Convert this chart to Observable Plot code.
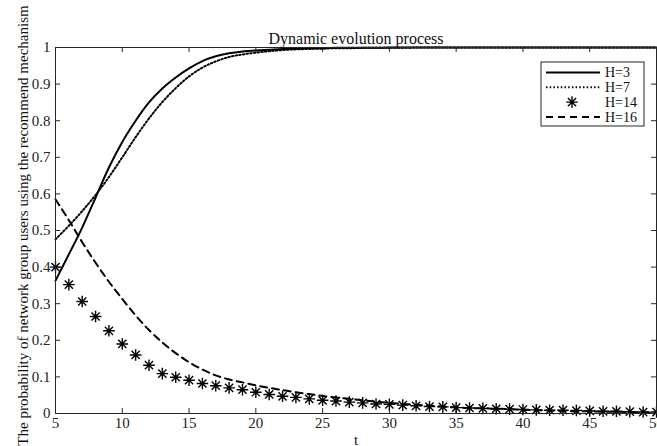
<!DOCTYPE html>
<html><head><meta charset="utf-8">
<script src="https://cdn.jsdelivr.net/npm/d3@7"></script>
<script src="https://cdn.jsdelivr.net/npm/@observablehq/plot@0.6"></script>
<style>body{margin:0;background:#fff} svg{display:block}</style>
</head><body><div id="chart"></div>
<script>
const tValues = [5,6,7,8,9,10,11,12,13,14,15,16,17,18,19,20,21,22,23,24,25,26,27,28,29,30,31,32,33,34,35,36,37,38,39,40,41,42,43,44,45,46,47,48,49,50];
const h3  = [0.363,0.435,0.508,0.59,0.672,0.742,0.8,0.85,0.888,0.918,0.943,0.963,0.976,0.984,0.989,0.992,0.994,0.996,0.997,0.998,0.998,0.999,0.999,0.999,0.999,1,1,1,1,1,1,1,1,1,1,1,1,1,1,1,1,1,1,1,1,1];
const h7  = [0.476,0.513,0.553,0.597,0.646,0.700,0.755,0.806,0.851,0.889,0.921,0.945,0.962,0.974,0.981,0.986,0.99,0.993,0.995,0.996,0.997,0.998,0.998,0.999,0.999,0.999,0.999,1,1,1,1,1,1,1,1,1,1,1,1,1,1,1,1,1,1,1];
const h14 = [0.40,0.352,0.306,0.265,0.226,0.19,0.16,0.132,0.109,0.099,0.091,0.082,0.076,0.07,0.065,0.058,0.052,0.047,0.044,0.04,0.036,0.034,0.031,0.029,0.026,0.025,0.023,0.021,0.019,0.018,0.016,0.015,0.014,0.013,0.012,0.011,0.010,0.009,0.009,0.008,0.007,0.006,0.006,0.005,0.004,0.004];
const h16 = [0.585,0.528,0.468,0.412,0.36,0.313,0.268,0.228,0.194,0.165,0.14,0.12,0.104,0.093,0.085,0.077,0.07,0.064,0.058,0.053,0.048,0.044,0.04,0.036,0.032,0.029,0.026,0.024,0.021,0.019,0.017,0.015,0.014,0.013,0.012,0.010,0.009,0.008,0.007,0.006,0.006,0.005,0.005,0.004,0.003,0.003];
const seriesNames = ["H=3","H=7","H=14","H=16"];
const xTicks = [5,10,15,20,25,30,35,40,45,50];
const yTicks = [0,0.1,0.2,0.3,0.4,0.5,0.6,0.7,0.8,0.9,1];
const yTickLabels = ["0","0.1","0.2","0.3","0.4","0.5","0.6","0.7","0.8","0.9","1"];
const titleText = "Dynamic evolution process";
const xLabel = "t";
const yLabel = "The probability of network group users using the recommend mechanism";

const rows = arr => tValues.map((t, i) => ({t, v: arr[i]}));
const FONT = "'Liberation Serif','Times New Roman',serif";
const AX = "#262626";
const DOT = "1.5,2.2", DASH = "7,5";

const starSymbol = {
  draw(ctx, size) {
    const r = Math.sqrt(size / Math.PI), d = r * Math.SQRT1_2;
    ctx.moveTo(-r, 0); ctx.lineTo(r, 0);
    ctx.moveTo(0, -r); ctx.lineTo(0, r);
    ctx.moveTo(-d, -d); ctx.lineTo(d, d);
    ctx.moveTo(-d, d); ctx.lineTo(d, -d);
  }
};

const W = 657, H = 446, mL = 55, mR = 1, mT = 47, mB = 33;
const innerW = W - mL - mR, innerH = H - mT - mB, tick = 5;

const svg = Plot.plot({
  width: W, height: H,
  marginLeft: mL, marginRight: mR, marginTop: mT, marginBottom: mB,
  style: {fontFamily: FONT, fontSize: "15px", color: "#222", background: "white", overflow: "visible"},
  x: {domain: [5, 50], label: null},
  y: {domain: [0, 1], label: null},
  marks: [
    Plot.axisX({ticks: xTicks, tickSize: 0, tickPadding: 4, fontSize: 15}),
    Plot.axisY({ticks: yTicks, tickSize: 0, tickPadding: 5, fontSize: 15, tickFormat: d => yTickLabels[yTicks.indexOf(d)]}),
    Plot.ruleX(xTicks, {x: d => d, insetTop: innerH - tick, stroke: AX}),
    Plot.ruleX(xTicks, {x: d => d, insetBottom: innerH - tick, stroke: AX}),
    Plot.ruleY(yTicks, {y: d => d, insetRight: innerW - tick, stroke: AX}),
    Plot.ruleY(yTicks, {y: d => d, insetLeft: innerW - tick, stroke: AX}),
    Plot.line(rows(h16), {x: "t", y: "v", stroke: "black", strokeWidth: 2, strokeDasharray: DASH, curve: "monotone-x"}),
    Plot.line(rows(h7), {x: "t", y: "v", stroke: "black", strokeWidth: 2, strokeDasharray: DOT, curve: "monotone-x"}),
    Plot.line(rows(h3), {x: "t", y: "v", stroke: "black", strokeWidth: 2, curve: "monotone-x"}),
    Plot.dot(rows(h14), {x: "t", y: "v", symbol: starSymbol, r: 5.8, stroke: "black", strokeWidth: 1.4, fill: "none"}),
    Plot.frame({stroke: AX, strokeWidth: 1}),
    Plot.text([titleText], {frameAnchor: "top", lineAnchor: "bottom", dy: -4, fontSize: 16, fill: "#111"}),
    Plot.text([xLabel], {frameAnchor: "bottom", lineAnchor: "bottom", dy: 31, fontSize: 15, fill: "#111"}),
    Plot.text([yLabel], {frameAnchor: "left", textAnchor: "middle", lineAnchor: "bottom", rotate: -90, dx: -28, dy: -5, fontSize: 15, fill: "#111"})
  ]
});
document.getElementById("chart").appendChild(svg);

// legend box
const styles = [
  {kind: "line", dash: null},
  {kind: "line", dash: DOT},
  {kind: "star"},
  {kind: "line", dash: DASH}
];
const lg = d3.select(svg).append("g").attr("font-family", FONT).attr("font-size", 14).attr("fill", "#111").attr("text-anchor", "start");
lg.append("rect").attr("x", 541).attr("y", 62).attr("width", 103).attr("height", 64)
  .attr("fill", "white").attr("stroke", AX).attr("stroke-width", 1);
seriesNames.forEach((name, i) => {
  const y = 72.5 + i * 14.8;
  const s = styles[i];
  if (s.kind === "line") {
    lg.append("line").attr("x1", 546).attr("x2", 600).attr("y1", y).attr("y2", y)
      .attr("stroke", "black").attr("stroke-width", 2).attr("stroke-dasharray", s.dash);
  } else {
    lg.append("path").attr("transform", `translate(572,${y})`)
      .attr("d", d3.symbol(starSymbol, Math.PI * 5.8 * 5.8)())
      .attr("stroke", "black").attr("stroke-width", 1.4).attr("fill", "none");
  }
  lg.append("text").attr("x", 605).attr("y", y).attr("dy", "0.35em").attr("text-anchor", "start").text(name);
});
</script>
</body></html>
